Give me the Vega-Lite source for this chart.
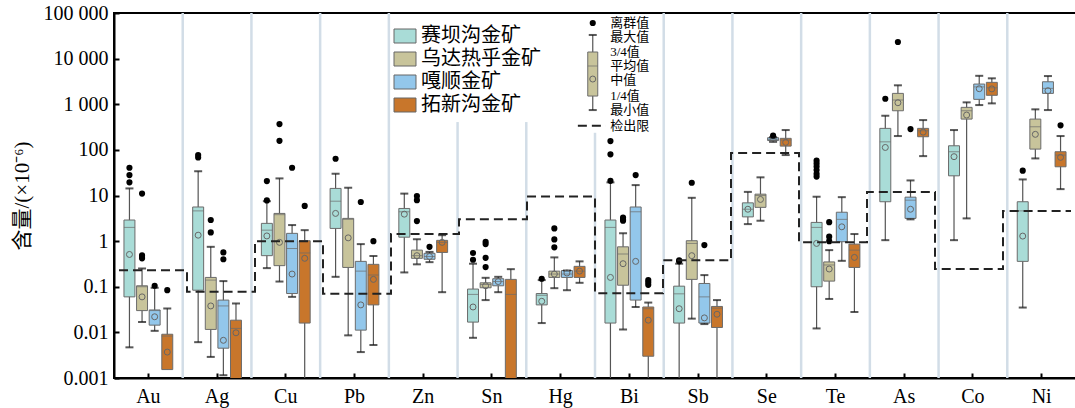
{
  "$schema": "https://vega.github.io/schema/vega-lite/v6.json",
  "width": 962,
  "height": 365,
  "autosize": {"type": "none"},
  "padding": {"left": 114, "top": 13, "right": 0, "bottom": 30},
  "background": "white",
  "config": {
    "view": {"stroke": "black", "strokeWidth": 2},
    "axis": {"domainColor": "black", "domainWidth": 2, "tickColor": "black", "tickWidth": 2, "grid": false, "labelColor": "black", "labelFont": "Liberation Serif", "labelFontSize": 20, "titleFont": "Liberation Serif, Noto Sans CJK SC", "titleFontSize": 21, "titleFontWeight": "normal", "titleColor": "black"}
  },
  "datasets": {
    "boxes": [
      {"el":"Au","dep":"赛坝沟金矿","min":0.0047,"q1":0.06,"med":2.0,"mean":0.51,"q3":2.9,"max":14.3},
      {"el":"Au","dep":"乌达热乎金矿","min":0.0168,"q1":0.030,"med":0.10,"mean":0.06,"q3":0.105,"max":0.25},
      {"el":"Au","dep":"嘎顺金矿","min":0.0108,"q1":0.0144,"med":0.03,"mean":0.022,"q3":0.031,"max":0.095},
      {"el":"Au","dep":"拓新沟金矿","min":0.00153,"q1":0.00153,"med":0.0083,"mean":0.0037,"q3":0.0091,"max":0.0334},
      {"el":"Ag","dep":"赛坝沟金矿","min":0.0061,"q1":0.084,"med":4.6,"mean":1.35,"q3":5.6,"max":34},
      {"el":"Ag","dep":"乌达热乎金矿","min":0.0029,"q1":0.0116,"med":0.14,"mean":0.038,"q3":0.16,"max":0.75},
      {"el":"Ag","dep":"嘎顺金矿","min":0.00115,"q1":0.0045,"med":0.038,"mean":0.0067,"q3":0.051,"max":0.133},
      {"el":"Ag","dep":"拓新沟金矿","min":0.0003,"q1":0.0004,"med":0.0122,"mean":0.0098,"q3":0.0185,"max":0.043},
      {"el":"Cu","dep":"赛坝沟金矿","min":0.256,"q1":0.48,"med":1.74,"mean":1.3,"q3":2.45,"max":7.5},
      {"el":"Cu","dep":"乌达热乎金矿","min":0.13,"q1":0.29,"med":3.8,"mean":0.94,"q3":4.05,"max":23.7},
      {"el":"Cu","dep":"嘎顺金矿","min":0.060,"q1":0.071,"med":0.69,"mean":0.19,"q3":1.48,"max":2.25},
      {"el":"Cu","dep":"拓新沟金矿","min":0.0003,"q1":0.016,"med":0.55,"mean":0.42,"q3":1.02,"max":1.74},
      {"el":"Pb","dep":"赛坝沟金矿","min":0.165,"q1":1.9,"med":7.5,"mean":4.05,"q3":14.3,"max":30},
      {"el":"Pb","dep":"乌达热乎金矿","min":0.0086,"q1":0.265,"med":3.0,"mean":1.18,"q3":3.15,"max":14.8},
      {"el":"Pb","dep":"嘎顺金矿","min":0.0037,"q1":0.0112,"med":0.22,"mean":0.04,"q3":0.36,"max":0.86},
      {"el":"Pb","dep":"拓新沟金矿","min":0.0053,"q1":0.04,"med":0.18,"mean":0.145,"q3":0.31,"max":0.47},
      {"el":"Zn","dep":"赛坝沟金矿","min":0.206,"q1":1.22,"med":4.4,"mean":3.9,"q3":5.2,"max":11},
      {"el":"Zn","dep":"乌达热乎金矿","min":0.31,"q1":0.42,"med":0.48,"mean":0.48,"q3":0.635,"max":1.1},
      {"el":"Zn","dep":"嘎顺金矿","min":0.346,"q1":0.40,"med":0.46,"mean":0.46,"q3":0.54,"max":0.58},
      {"el":"Zn","dep":"拓新沟金矿","min":0.076,"q1":0.565,"med":0.94,"mean":0.94,"q3":1.04,"max":1.35},
      {"el":"Sn","dep":"赛坝沟金矿","min":0.0076,"q1":0.0168,"med":0.068,"mean":0.036,"q3":0.089,"max":0.32},
      {"el":"Sn","dep":"乌达热乎金矿","min":0.051,"q1":0.095,"med":0.112,"mean":0.105,"q3":0.122,"max":0.157},
      {"el":"Sn","dep":"嘎顺金矿","min":0.076,"q1":0.105,"med":0.13,"mean":0.13,"q3":0.15,"max":0.165},
      {"el":"Sn","dep":"拓新沟金矿","min":0.0003,"q1":0.0004,"med":0.068,"mean":null,"q3":0.145,"max":0.243},
      {"el":"Hg","dep":"赛坝沟金矿","min":0.016,"q1":0.04,"med":0.065,"mean":0.048,"q3":0.071,"max":0.14},
      {"el":"Hg","dep":"乌达热乎金矿","min":0.093,"q1":0.16,"med":0.19,"mean":0.19,"q3":0.22,"max":0.44},
      {"el":"Hg","dep":"嘎顺金矿","min":0.084,"q1":0.16,"med":0.19,"mean":0.2,"q3":0.227,"max":0.227},
      {"el":"Hg","dep":"拓新沟金矿","min":0.122,"q1":0.16,"med":0.22,"mean":0.22,"q3":0.28,"max":0.36},
      {"el":"Bi","dep":"赛坝沟金矿","min":0.0003,"q1":0.016,"med":2.0,"mean":0.16,"q3":2.9,"max":19.4},
      {"el":"Bi","dep":"乌达热乎金矿","min":0.0116,"q1":0.108,"med":0.52,"mean":0.32,"q3":0.75,"max":1.48},
      {"el":"Bi","dep":"嘎顺金矿","min":0.036,"q1":0.051,"med":4.4,"mean":0.36,"q3":5.6,"max":16.9},
      {"el":"Bi","dep":"拓新沟金矿","min":0.0003,"q1":0.003,"med":0.033,"mean":0.0185,"q3":0.036,"max":0.045},
      {"el":"Sb","dep":"赛坝沟金矿","min":0.0003,"q1":0.016,"med":0.07,"mean":0.033,"q3":0.103,"max":0.32},
      {"el":"Sb","dep":"乌达热乎金矿","min":0.020,"q1":0.145,"med":0.89,"mean":0.48,"q3":1.02,"max":8.9},
      {"el":"Sb","dep":"嘎顺金矿","min":0.0152,"q1":0.016,"med":0.06,"mean":0.0208,"q3":0.118,"max":0.18},
      {"el":"Sb","dep":"拓新沟金矿","min":0.0003,"q1":0.0128,"med":0.034,"mean":0.025,"q3":0.037,"max":0.051},
      {"el":"Se","dep":"赛坝沟金矿","min":2.36,"q1":3.4,"med":5.0,"mean":5.0,"q3":6.9,"max":12},
      {"el":"Se","dep":"乌达热乎金矿","min":2.8,"q1":5.5,"med":10,"mean":8.2,"q3":10.7,"max":25},
      {"el":"Se","dep":"嘎顺金矿","min":150,"q1":160,"med":170,"mean":170,"q3":185,"max":190},
      {"el":"Se","dep":"拓新沟金矿","min":77,"q1":121,"med":164,"mean":146,"q3":179,"max":272},
      {"el":"Te","dep":"赛坝沟金矿","min":0.0122,"q1":0.1,"med":2.0,"mean":0.89,"q3":2.57,"max":9.4},
      {"el":"Te","dep":"乌达热乎金矿","min":0.054,"q1":0.133,"med":0.30,"mean":0.245,"q3":0.35,"max":0.635},
      {"el":"Te","dep":"嘎顺金矿","min":0.37,"q1":0.97,"med":3.0,"mean":2.06,"q3":4.3,"max":9.2},
      {"el":"Te","dep":"拓新沟金矿","min":0.028,"q1":0.265,"med":0.635,"mean":0.44,"q3":0.86,"max":1.43},
      {"el":"As","dep":"赛坝沟金矿","min":1.05,"q1":7.3,"med":150,"mean":113,"q3":296,"max":560},
      {"el":"As","dep":"乌达热乎金矿","min":201,"q1":720,"med":1240,"mean":1080,"q3":1730,"max":2600},
      {"el":"As","dep":"嘎顺金矿","min":3.0,"q1":3.15,"med":7.9,"mean":5.0,"q3":9.2,"max":21.4},
      {"el":"As","dep":"拓新沟金矿","min":73,"q1":194,"med":262,"mean":245,"q3":296,"max":450},
      {"el":"Co","dep":"赛坝沟金矿","min":1.05,"q1":27,"med":91,"mean":71,"q3":123,"max":272},
      {"el":"Co","dep":"乌达热乎金矿","min":3.15,"q1":473,"med":720,"mean":580,"q3":855,"max":1100},
      {"el":"Co","dep":"嘎顺金矿","min":960,"q1":1280,"med":2400,"mean":2190,"q3":2770,"max":4200},
      {"el":"Co","dep":"拓新沟金矿","min":1045,"q1":1570,"med":2300,"mean":2170,"q3":3020,"max":3700},
      {"el":"Ni","dep":"赛坝沟金矿","min":0.035,"q1":0.36,"med":4.6,"mean":1.29,"q3":7.3,"max":22.5},
      {"el":"Ni","dep":"乌达热乎金矿","min":65,"q1":104,"med":321,"mean":219,"q3":473,"max":773},
      {"el":"Ni","dep":"嘎顺金矿","min":746,"q1":1730,"med":2230,"mean":1980,"q3":3110,"max":4150},
      {"el":"Ni","dep":"拓新沟金矿","min":13.8,"q1":42.6,"med":77,"mean":68.5,"q3":91,"max":201}
    ],
    "outl": [
      {"el":"Au","dep":"赛坝沟金矿","v":40.5},{"el":"Au","dep":"赛坝沟金矿","v":28},{"el":"Au","dep":"赛坝沟金矿","v":19.4},
      {"el":"Au","dep":"乌达热乎金矿","v":11},{"el":"Au","dep":"乌达热乎金矿","v":0.49},{"el":"Au","dep":"乌达热乎金矿","v":0.45},{"el":"Au","dep":"乌达热乎金矿","v":0.42},
      {"el":"Au","dep":"嘎顺金矿","v":0.105},{"el":"Au","dep":"拓新沟金矿","v":0.084},
      {"el":"Ag","dep":"赛坝沟金矿","v":77},{"el":"Ag","dep":"赛坝沟金矿","v":68},
      {"el":"Ag","dep":"乌达热乎金矿","v":2.9},{"el":"Ag","dep":"乌达热乎金矿","v":1.55},
      {"el":"Ag","dep":"嘎顺金矿","v":0.565},{"el":"Ag","dep":"嘎顺金矿","v":0.40},
      {"el":"Cu","dep":"赛坝沟金矿","v":20.7},{"el":"Cu","dep":"赛坝沟金矿","v":7.8},
      {"el":"Cu","dep":"乌达热乎金矿","v":368},{"el":"Cu","dep":"乌达热乎金矿","v":158},
      {"el":"Cu","dep":"嘎顺金矿","v":40.5},{"el":"Cu","dep":"拓新沟金矿","v":5.9},
      {"el":"Pb","dep":"赛坝沟金矿","v":64},{"el":"Pb","dep":"嘎顺金矿","v":7.2},{"el":"Pb","dep":"拓新沟金矿","v":1.0},
      {"el":"Zn","dep":"乌达热乎金矿","v":9.7},{"el":"Zn","dep":"乌达热乎金矿","v":7.9},{"el":"Zn","dep":"乌达热乎金矿","v":2.75},{"el":"Zn","dep":"嘎顺金矿","v":0.75},
      {"el":"Sn","dep":"赛坝沟金矿","v":0.55},{"el":"Sn","dep":"赛坝沟金矿","v":0.39},
      {"el":"Sn","dep":"乌达热乎金矿","v":0.97},{"el":"Sn","dep":"乌达热乎金矿","v":0.86},{"el":"Sn","dep":"乌达热乎金矿","v":0.43},{"el":"Sn","dep":"乌达热乎金矿","v":0.27},
      {"el":"Hg","dep":"赛坝沟金矿","v":0.15},
      {"el":"Hg","dep":"乌达热乎金矿","v":1.9},{"el":"Hg","dep":"乌达热乎金矿","v":1.09},{"el":"Hg","dep":"乌达热乎金矿","v":0.73},
      {"el":"Bi","dep":"赛坝沟金矿","v":156},{"el":"Bi","dep":"赛坝沟金矿","v":80},{"el":"Bi","dep":"赛坝沟金矿","v":21},
      {"el":"Bi","dep":"乌达热乎金矿","v":3.3},{"el":"Bi","dep":"乌达热乎金矿","v":3.0},{"el":"Bi","dep":"乌达热乎金矿","v":2.8},
      {"el":"Bi","dep":"嘎顺金矿","v":28},
      {"el":"Bi","dep":"拓新沟金矿","v":0.14},{"el":"Bi","dep":"拓新沟金矿","v":0.125},{"el":"Bi","dep":"拓新沟金矿","v":0.11},
      {"el":"Sb","dep":"赛坝沟金矿","v":0.36},{"el":"Sb","dep":"赛坝沟金矿","v":0.38},
      {"el":"Sb","dep":"乌达热乎金矿","v":19},{"el":"Sb","dep":"嘎顺金矿","v":0.82},
      {"el":"Se","dep":"嘎顺金矿","v":205},
      {"el":"Te","dep":"赛坝沟金矿","v":58},{"el":"Te","dep":"赛坝沟金矿","v":50},{"el":"Te","dep":"赛坝沟金矿","v":43},{"el":"Te","dep":"赛坝沟金矿","v":36},{"el":"Te","dep":"赛坝沟金矿","v":30},{"el":"Te","dep":"赛坝沟金矿","v":26},
      {"el":"Te","dep":"乌达热乎金矿","v":2.6},{"el":"Te","dep":"乌达热乎金矿","v":1.25},{"el":"Te","dep":"乌达热乎金矿","v":1.0},
      {"el":"As","dep":"赛坝沟金矿","v":1320},{"el":"As","dep":"乌达热乎金矿","v":23100},{"el":"As","dep":"嘎顺金矿","v":286},
      {"el":"Ni","dep":"赛坝沟金矿","v":35},{"el":"Ni","dep":"拓新沟金矿","v":345}
    ],
    "sep": [
      {"b":1,"top":100000},{"b":2,"top":100000},{"b":3,"top":100000},{"b":4,"top":100000},
      {"b":5,"top":407},{"b":6,"top":407},{"b":7,"top":237},{"b":8,"top":100000},
      {"b":9,"top":100000},{"b":10,"top":100000},{"b":11,"top":100000},{"b":12,"top":100000},{"b":13,"top":100000}
    ],
    "lim": [
      {"pos":0,"lim":0.23},{"pos":1,"lim":0.078},{"pos":2,"lim":1.0},{"pos":3,"lim":0.07},
      {"pos":4,"lim":1.43},{"pos":5,"lim":3.0},{"pos":6,"lim":9.5},{"pos":7,"lim":0.072},
      {"pos":8,"lim":0.38},{"pos":9,"lim":85},{"pos":10,"lim":0.95},{"pos":11,"lim":12},
      {"pos":12,"lim":0.245},{"pos":13,"lim":4.6},{"pos":14,"lim":4.6}
    ],
    "keytext": [
      {"v":59500,"t":"离群值"},{"v":29300,"t":"最大值"},{"v":13700,"t":"3/4值"},{"v":6980,"t":"平均值"},
      {"v":3400,"t":"中值"},{"v":1535,"t":"1/4值"},{"v":747,"t":"最小值"},{"v":338,"t":"检出限"}
    ]
  },
  "resolve": {"scale": {"x": "independent"}},
  "layer": [
    {
      "data": {"name": "sep"},
      "mark": {"type": "rule", "color": "#d2dde7", "strokeWidth": 2.5},
      "encoding": {
        "x": {"field": "b", "type": "quantitative", "scale": {"domain": [0, 14], "nice": false, "zero": false}, "axis": null},
        "y": {"field": "top", "type": "quantitative", "scale": {"type": "log", "domain": [0.001, 100000], "nice": false}},
        "y2": {"datum": 0.001}
      }
    },
    {
      "data": {"name": "boxes"},
      "encoding": {
        "x": {"field": "el", "type": "nominal", "sort": ["Au","Ag","Cu","Pb","Zn","Sn","Hg","Bi","Sb","Se","Te","As","Co","Ni"],
              "scale": {"type": "band", "paddingInner": 0, "paddingOuter": 0},
              "axis": {"title": null, "labelAngle": 0, "tickSize": -5, "labelPadding": 13, "labelFont": "Liberation Serif", "labelFontSize": 20}},
        "xOffset": {"field": "dep", "type": "nominal", "sort": ["赛坝沟金矿","乌达热乎金矿","嘎顺金矿","拓新沟金矿"],
              "scale": {"paddingInner": 0.13, "paddingOuter": 0.79}}
      },
      "layer": [
        {
          "mark": {"type": "rule", "color": "#555555", "strokeWidth": 1.2, "clip": true},
          "encoding": {
            "y": {"field": "min", "type": "quantitative", "scale": {"type": "log", "domain": [0.001, 100000], "nice": false},
                  "axis": {"title": "含量/(×10⁻⁶)", "values": [0.001, 0.01, 0.1, 1, 10, 100, 1000, 10000, 100000],
                           "labelExpr": "replace(format(datum.value, ','), /,/g, ' ')", "tickSize": -5, "labelPadding": 11, "titlePadding": 11}},
            "y2": {"field": "max"}
          }
        },
        {
          "mark": {"type": "bar", "stroke": "#6b6b6b", "strokeWidth": 1, "clip": true, "opacity": 1},
          "encoding": {
            "y": {"field": "q1", "type": "quantitative"},
            "y2": {"field": "q3"},
            "color": {"field": "dep", "type": "nominal",
                      "scale": {"domain": ["赛坝沟金矿","乌达热乎金矿","嘎顺金矿","拓新沟金矿"], "range": ["#a9dcd7","#c8c49b","#93c7eb","#c8762b"]},
                      "legend": {"orient": "none", "legendX": 281, "legendY": 13, "title": null,
                                 "symbolType": "M-1.57,-1L1.57,-1L1.57,1L-1.57,1Z", "symbolSize": 196,
                                 "symbolStrokeColor": "#666666", "symbolStrokeWidth": 1, "symbolOpacity": 1,
                                 "labelFont": "Noto Sans CJK SC", "labelFontSize": 20, "labelColor": "black",
                                 "labelOffset": 6, "rowPadding": 3, "padding": 0}}
          }
        },
        {
          "mark": {"type": "tick", "orient": "horizontal", "color": "#6b6b6b", "size": 11, "thickness": 1, "clip": true},
          "encoding": {"y": {"field": "med", "type": "quantitative"}}
        },
        {
          "transform": [{"filter": "datum.min < datum.q1"}],
          "mark": {"type": "tick", "orient": "horizontal", "color": "#111111", "size": 8, "thickness": 2, "clip": true},
          "encoding": {"y": {"field": "min", "type": "quantitative"}}
        },
        {
          "mark": {"type": "tick", "orient": "horizontal", "color": "#111111", "size": 8, "thickness": 2, "clip": true},
          "encoding": {"y": {"field": "max", "type": "quantitative"}}
        },
        {
          "mark": {"type": "point", "shape": "circle", "filled": false, "size": 36, "stroke": "#666666", "strokeWidth": 1, "clip": true, "opacity": 1},
          "encoding": {"y": {"field": "mean", "type": "quantitative"}}
        },
        {
          "data": {"name": "outl"},
          "mark": {"type": "point", "shape": "circle", "filled": true, "size": 38, "color": "black", "opacity": 1, "clip": true},
          "encoding": {"y": {"field": "v", "type": "quantitative"}}
        }
      ]
    },
    {
      "layer": [
        {
          "data": {"name": "lim"},
          "mark": {"type": "line", "interpolate": "step-after", "strokeDash": [9, 5], "color": "#222222", "strokeWidth": 2},
          "encoding": {
            "x": {"field": "pos", "type": "quantitative", "scale": {"domain": [0, 14], "nice": false, "zero": false}, "axis": null},
            "y": {"field": "lim", "type": "quantitative"}
          }
        },
        {
          "data": {"values": [{}]},
          "mark": {"type": "rule", "color": "#555555", "strokeWidth": 1.2},
          "encoding": {"x": {"datum": 6.967, "type": "quantitative", "axis": null}, "y": {"datum": 746, "type": "quantitative"}, "y2": {"datum": 33000}}
        },
        {
          "data": {"values": [{}]},
          "mark": {"type": "bar", "size": 10, "fill": "#c8c49b", "stroke": "#6b6b6b", "strokeWidth": 1},
          "encoding": {"x": {"datum": 6.967, "type": "quantitative", "axis": null}, "y": {"datum": 1514, "type": "quantitative"}, "y2": {"datum": 13960}}
        },
        {
          "data": {"values": [{}]},
          "mark": {"type": "tick", "orient": "horizontal", "color": "#6b6b6b", "size": 10, "thickness": 1},
          "encoding": {"x": {"datum": 6.967, "type": "quantitative", "axis": null}, "y": {"datum": 6890, "type": "quantitative"}}
        },
        {
          "data": {"values": [{"v": 746}, {"v": 33000}]},
          "mark": {"type": "tick", "orient": "horizontal", "color": "#111111", "size": 8, "thickness": 2},
          "encoding": {"x": {"datum": 6.967, "type": "quantitative", "axis": null}, "y": {"field": "v", "type": "quantitative"}}
        },
        {
          "data": {"values": [{}]},
          "mark": {"type": "point", "shape": "circle", "filled": false, "size": 36, "stroke": "#666666", "strokeWidth": 1, "opacity": 1},
          "encoding": {"x": {"datum": 6.967, "type": "quantitative", "axis": null}, "y": {"datum": 3570, "type": "quantitative"}}
        },
        {
          "data": {"values": [{}]},
          "mark": {"type": "point", "shape": "circle", "filled": true, "size": 38, "color": "black", "opacity": 1},
          "encoding": {"x": {"datum": 6.967, "type": "quantitative", "axis": null}, "y": {"datum": 60400, "type": "quantitative"}}
        },
        {
          "data": {"values": [{}]},
          "mark": {"type": "rule", "strokeDash": [9, 5], "color": "#222222", "strokeWidth": 2},
          "encoding": {"x": {"datum": 6.748, "type": "quantitative", "axis": null}, "x2": {"datum": 7.16}, "y": {"datum": 338, "type": "quantitative"}}
        },
        {
          "data": {"name": "keytext"},
          "mark": {"type": "text", "align": "left", "baseline": "middle", "font": "Liberation Serif, Noto Sans CJK SC", "fontSize": 13, "color": "black"},
          "encoding": {"x": {"datum": 7.223, "type": "quantitative", "axis": null}, "y": {"field": "v", "type": "quantitative"}, "text": {"field": "t"}}
        }
      ]
    }
  ]
}
